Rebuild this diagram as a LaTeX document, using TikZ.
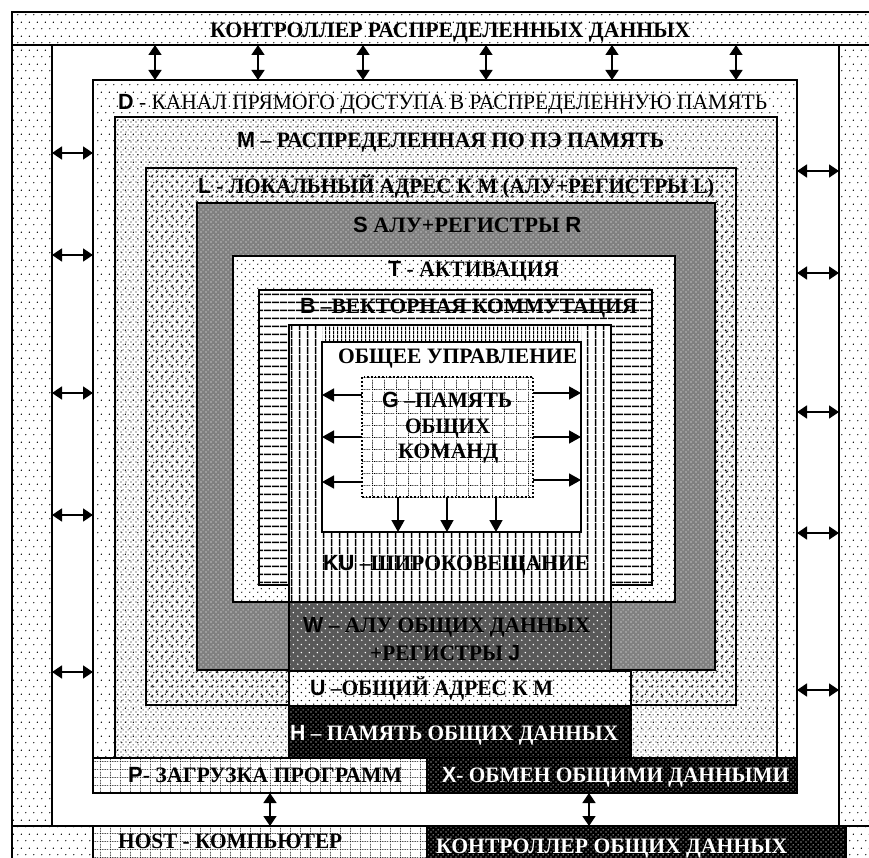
\documentclass[tikz,border=0pt]{standalone}
\usepackage{fontspec}
\setmainfont{Liberation Serif}
\setsansfont{Liberation Sans}
\usepackage{graphicx}
\usetikzlibrary{patterns.meta,arrows.meta}

\tikzdeclarepattern{name=sdots,type=uncolored,bottom left={(0pt,0pt)},top right={(8pt,14pt)},tile size={(8pt,14pt)},
  code={\fill (2pt,3.5pt) circle (0.8pt); \fill (6pt,10.5pt) circle (0.8pt);}}
\tikzdeclarepattern{name=mdots,type=uncolored,bottom left={(0pt,0pt)},top right={(5pt,5pt)},tile size={(5pt,5pt)},
  code={\fill (1.2pt,1.2pt) circle (0.7pt); \fill (3.7pt,3.7pt) circle (0.7pt);}}
\tikzdeclarepattern{name=tdots,type=uncolored,bottom left={(0pt,0pt)},top right={(8pt,8pt)},tile size={(8pt,8pt)},
  code={\fill (2pt,2pt) circle (0.8pt); \fill (6pt,6pt) circle (0.8pt);}}
\tikzdeclarepattern{name=wdots,type=uncolored,bottom left={(0pt,0pt)},top right={(5pt,5pt)},tile size={(5pt,5pt)},
  code={\fill (1.2pt,1.2pt) circle (0.7pt); \fill (3.7pt,3.7pt) circle (0.7pt);}}
\tikzdeclarepattern{name=wsparse,type=uncolored,bottom left={(0pt,0pt)},top right={(8pt,8pt)},tile size={(8pt,8pt)},
  code={\fill (2pt,2pt) circle (0.9pt); \fill (6pt,6pt) circle (0.9pt);}}
\tikzdeclarepattern{name=chev,type=uncolored,bottom left={(0pt,0pt)},top right={(10pt,10pt)},tile size={(10pt,10pt)},
  code={\draw[line width=0.8pt] (3.2pt,0.8pt)--(1.4pt,2pt)--(3.2pt,3.2pt);
        \draw[line width=0.8pt] (6.6pt,5.8pt)--(8.4pt,7pt)--(6.6pt,8.2pt);}}
\tikzdeclarepattern{name=hlines,type=uncolored,bottom left={(0pt,0pt)},top right={(8pt,8pt)},tile size={(8pt,8pt)},
  code={\draw[line width=1.6pt] (0pt,4pt)--(8pt,4pt);}}
\tikzdeclarepattern{name=vlines,type=uncolored,bottom left={(0pt,0pt)},top right={(8pt,8pt)},tile size={(8pt,8pt)},
  code={\draw[line width=1.6pt] (4pt,0pt)--(4pt,8pt);}}
\tikzdeclarepattern{name=vdense,type=uncolored,bottom left={(0pt,0pt)},top right={(4pt,4pt)},tile size={(4pt,4pt)},
  code={\draw[line width=1.2pt] (2pt,0pt)--(2pt,4pt);}}
\tikzdeclarepattern{name=dgrid,type=uncolored,bottom left={(0pt,0pt)},top right={(10pt,8pt)},tile size={(10pt,8pt)},
  code={\draw[line width=0.8pt,dash pattern=on 0.8pt off 1.2pt] (0pt,0.5pt)--(10pt,0.5pt);
        \draw[line width=0.8pt,dash pattern=on 0.8pt off 1.2pt] (0.5pt,0pt)--(0.5pt,8pt);}}
\tikzdeclarepattern{name=ggrid,type=uncolored,bottom left={(0pt,0pt)},top right={(12pt,12pt)},tile size={(12pt,12pt)},
  code={\draw[line width=0.9pt,dash pattern=on 1pt off 1pt] (0pt,0.5pt)--(12pt,0.5pt);
        \draw[line width=0.9pt,dash pattern=on 1pt off 1pt] (0.5pt,0pt)--(0.5pt,12pt);}}

\newcommand\fitw[2]{\resizebox{#1pt}{\height}{#2}}
\newcommand\LBL[1]{{\sffamily\bfseries #1}}

\begin{document}
\begin{tikzpicture}[x=1pt,y=-1pt,
  box/.style={rectangle,anchor=north west,inner sep=0pt,outer sep=0pt,draw=black,line width=1.7pt},
  blackbg/.style={preaction={fill=black},pattern=wdots,pattern color=white},
  graybg/.style={preaction={fill=black!50},pattern=wdots,pattern color=white},
  wgraybg/.style={preaction={fill=black!65},pattern=wsparse,pattern color=white},
  lbl/.style={anchor=base west,inner sep=0pt,font=\fontsize{22}{24}\selectfont\bfseries},
  dbl/.style={line width=1.6pt,{Triangle[length=10pt,width=13pt]}-{Triangle[length=10pt,width=13pt]}},
  sgl/.style={line width=1.6pt,-{Triangle[length=12pt,width=13pt]}}]
\useasboundingbox (0,0) rectangle (869,858);
\clip (0,0) rectangle (869,858);
\fill[white] (0,0) rectangle (869,858);

% outer controller frame
\node[box,pattern=sdots,minimum width=870pt,minimum height=870pt] (frame) at (12,12) {};
\node[box,minimum width=870pt,minimum height=33pt] (topband) at (12,12) {};
\node[box,minimum width=870pt,minimum height=50pt] (botband) at (12,826) {};
\node[box,fill=white,minimum width=787pt,minimum height=781pt] (inner) at (52,45) {};

% nested boxes
\node[box,pattern=sdots,minimum width=704pt,minimum height=678pt] (D) at (93,80) {};
\node[box,pattern=mdots,minimum width=662pt,minimum height=641pt] (M) at (115,117) {};
\node[box,pattern=chev,minimum width=590pt,minimum height=537pt] (L) at (146,168) {};
\node[box,graybg,minimum width=518pt,minimum height=467pt] (S) at (197,203) {};
\node[box,preaction={fill=white},pattern=tdots,minimum width=442pt,minimum height=346pt] (T) at (233,256) {};
\node[box,preaction={fill=white},pattern=hlines,minimum width=393pt,minimum height=295pt] (B) at (259,290) {};
\node[box,preaction={fill=white},pattern=vlines,minimum width=322pt,minimum height=277pt] (KU) at (289,325) {};
\node[anchor=north west,inner sep=0pt,outer sep=0pt,preaction={fill=white},pattern=vdense,minimum width=259pt,minimum height=16pt] (KUstrip) at (322,326) {};
\node[box,fill=white,line width=2pt,minimum width=259pt,minimum height=190pt] (OU) at (322,342) {};
\node[box,pattern=ggrid,dotted,line width=1.7pt,minimum width=171pt,minimum height=120pt] (G) at (362,377) {};
\node[box,wgraybg,minimum width=322pt,minimum height=69pt] (W) at (289,602) {};
\node[box,preaction={fill=white},pattern=tdots,minimum width=342pt,minimum height=35pt] (U) at (289,671) {};
\node[box,blackbg,minimum width=342pt,minimum height=52pt] (H) at (289,706) {};
\node[box,preaction={fill=white},pattern=dgrid,minimum width=334pt,minimum height=35pt] (P) at (93,758) {};
\node[box,blackbg,minimum width=370pt,minimum height=35pt] (X) at (427,758) {};
\node[box,preaction={fill=white},pattern=dgrid,minimum width=334pt,minimum height=50pt] (HOST) at (93,826) {};
\node[box,blackbg,minimum width=419pt,minimum height=50pt] (CTRL) at (427,826) {};

% top arrows
\foreach \xx in {155,258,363,486,612,736}
  \draw[dbl] (inner.north -| \xx,0) -- (D.north -| \xx,0);
% left arrows
\foreach \yy in {153,255,393,515,672}
  \draw[dbl] (inner.west |- 0,\yy) -- (D.west |- 0,\yy);
% right arrows
\foreach \yy in {171,273,412,533,690}
  \draw[dbl] (D.east |- 0,\yy) -- (inner.east |- 0,\yy);
% bottom arrows
\draw[dbl] (P.south -| 270,0) -- (HOST.north -| 270,0);
\draw[dbl] (X.south -| 589,0) -- (CTRL.north -| 589,0);
% G arrows
\foreach \yy in {395,437,482}
  \draw[sgl] (G.west |- 0,\yy) -- (OU.west |- 0,\yy);
\foreach \yy in {393,437,480}
  \draw[sgl] (G.east |- 0,\yy) -- (OU.east |- 0,\yy);
\foreach \xx in {398,447,496}
  \draw[sgl] (G.south -| \xx,0) -- (OU.south -| \xx,0);

% labels
\node[lbl] (tTop) at (210,37.5) {\fitw{480}{КОНТРОЛЛЕР РАСПРЕДЕЛЕННЫХ ДАННЫХ}};
\node[lbl,font=\fontsize{22}{24}\selectfont\mdseries] (tD) at (118,110) {\fitw{649}{\LBL{D} - КАНАЛ ПРЯМОГО ДОСТУПА В РАСПРЕДЕЛЕННУЮ ПАМЯТЬ}};
\node[lbl] (tM) at (237,148) {\fitw{427}{\LBL{M} – РАСПРЕДЕЛЕННАЯ ПО ПЭ ПАМЯТЬ}};
\node[lbl] (tL) at (198,194) {\fitw{516}{\LBL{L} - ЛОКАЛЬНЫЙ АДРЕС К М (АЛУ+РЕГИСТРЫ L)}};
\node[lbl] (tS) at (353,233) {\fitw{228}{\LBL{S} АЛУ+РЕГИСТРЫ \LBL{R}}};
\node[lbl] (tT) at (388,277) {\fitw{171}{\LBL{T} - АКТИВАЦИЯ}};
\node[lbl] (tB) at (300,313) {\fitw{337}{\LBL{B} –ВЕКТОРНАЯ КОММУТАЦИЯ}};
\node[lbl] (tOU) at (338,363) {\fitw{239}{ОБЩЕЕ УПРАВЛЕНИЕ}};
\node[lbl] (tG1) at (382,407) {\fitw{130}{\LBL{G} –ПАМЯТЬ}};
\node[lbl] (tG2) at (405,433) {\fitw{85}{ОБЩИХ}};
\node[lbl] (tG3) at (398,458) {\fitw{100}{КОМАНД}};
\node[lbl] (tKU) at (323,570) {\fitw{266}{\LBL{KU} –ШИРОКОВЕЩАНИЕ}};
\node[lbl] (tW1) at (303,632) {\fitw{287}{\LBL{W} – АЛУ ОБЩИХ ДАННЫХ}};
\node[lbl] (tW2) at (370,660) {\fitw{150}{+РЕГИСТРЫ \LBL{J}}};
\node[lbl] (tU) at (310,695) {\fitw{243}{\LBL{U} –ОБЩИЙ АДРЕС К М}};
\node[lbl,text=white] (tH) at (290,740) {\fitw{328}{\LBL{H} – ПАМЯТЬ ОБЩИХ ДАННЫХ}};
\node[lbl] (tP) at (128,782) {\fitw{274}{\LBL{P}- ЗАГРУЗКА ПРОГРАММ}};
\node[lbl,text=white] (tX) at (442,782) {\fitw{347}{\LBL{X}- ОБМЕН ОБЩИМИ ДАННЫМИ}};
\node[lbl] (tHOST) at (118,848) {\fitw{224}{HOST - КОМПЬЮТЕР}};
\node[lbl,text=white] (tCTRL) at (436,853) {\fitw{351}{КОНТРОЛЛЕР ОБЩИХ ДАННЫХ}};
\end{tikzpicture}
\end{document}
